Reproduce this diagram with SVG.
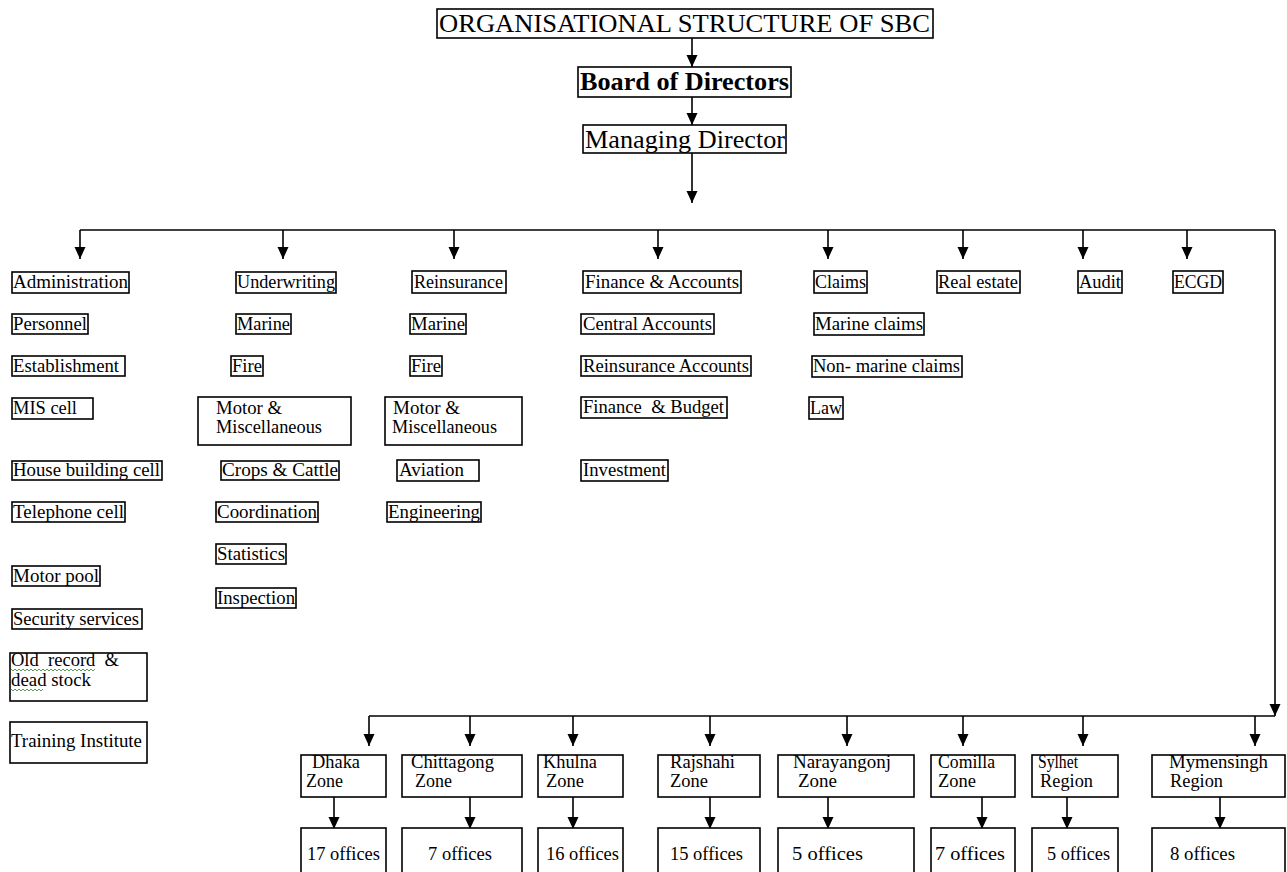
<svg xmlns="http://www.w3.org/2000/svg" width="1287" height="872" viewBox="0 0 1287 872" font-family="'Liberation Serif', 'DejaVu Serif', serif">
<style>
.b{fill:#fff;stroke:#000;stroke-width:1.6}
.t{font-family:'Liberation Serif','DejaVu Serif',serif;font-size:18px;fill:#000}
.h{font-family:'Liberation Serif','DejaVu Serif',serif;font-size:25px;fill:#000}
.c{stroke:#000;stroke-width:1.6;fill:none}
.a{stroke:#000;stroke-width:1.6;fill:none;marker-end:url(#ah)}
.sq{stroke:#5a9a5a;stroke-width:1;fill:none}
</style>
<defs>
<marker id="ah" markerUnits="userSpaceOnUse" markerWidth="12" markerHeight="12" viewBox="0 0 12 12" refX="12" refY="6" orient="auto">
<path d="M0,0.5 L12,6 L0,11.5 z" fill="#000"/>
</marker>
</defs>
<rect width="1287" height="872" fill="#fff"/>

<g id="connectors">
<line class="a" x1="692" y1="38" x2="692" y2="67"/>
<line class="a" x1="692" y1="97" x2="692" y2="125"/>
<line class="a" x1="692" y1="153" x2="692" y2="203"/>
<polyline class="c" points="80,230 1275,230"/>
<line class="a" x1="80" y1="230" x2="80" y2="259"/>
<line class="a" x1="283" y1="230" x2="283" y2="259"/>
<line class="a" x1="454" y1="230" x2="454" y2="259"/>
<line class="a" x1="658" y1="230" x2="658" y2="259"/>
<line class="a" x1="828" y1="230" x2="828" y2="259"/>
<line class="a" x1="963" y1="230" x2="963" y2="259"/>
<line class="a" x1="1083" y1="230" x2="1083" y2="259"/>
<line class="a" x1="1187" y1="230" x2="1187" y2="259"/>
<line class="a" x1="1275" y1="230" x2="1275" y2="716"/>
<polyline class="c" points="369,716 1275,716"/>
<line class="a" x1="369" y1="716" x2="369" y2="746"/>
<line class="a" x1="470" y1="716" x2="470" y2="746"/>
<line class="a" x1="573" y1="716" x2="573" y2="746"/>
<line class="a" x1="710" y1="716" x2="710" y2="746"/>
<line class="a" x1="847" y1="716" x2="847" y2="746"/>
<line class="a" x1="963" y1="716" x2="963" y2="746"/>
<line class="a" x1="1083" y1="716" x2="1083" y2="746"/>
<line class="a" x1="1255" y1="716" x2="1255" y2="746"/>
<line class="a" x1="334" y1="797" x2="334" y2="829"/>
<line class="a" x1="470" y1="797" x2="470" y2="829"/>
<line class="a" x1="573" y1="797" x2="573" y2="829"/>
<line class="a" x1="710" y1="797" x2="710" y2="829"/>
<line class="a" x1="828" y1="797" x2="828" y2="829"/>
<line class="a" x1="982" y1="797" x2="982" y2="829"/>
<line class="a" x1="1067" y1="797" x2="1067" y2="829"/>
<line class="a" x1="1220" y1="797" x2="1220" y2="829"/>
</g>

<g id="title"><rect class="b" x="437" y="9" width="496" height="29"/><text class="h" x="439" y="32" textLength="491" lengthAdjust="spacingAndGlyphs">ORGANISATIONAL STRUCTURE OF SBC</text></g>
<g id="board"><rect class="b" x="578" y="67" width="213" height="30"/><text class="h" x="580" y="90" font-weight="bold" textLength="209" lengthAdjust="spacingAndGlyphs">Board of Directors</text></g>
<g id="md"><rect class="b" x="583" y="125" width="203" height="28"/><text class="h" x="585" y="148" textLength="200" lengthAdjust="spacingAndGlyphs">Managing Director</text></g>

<g id="administration"><rect class="b" x="12" y="272" width="117" height="21"/><text class="t" x="13" y="288" textLength="115" lengthAdjust="spacingAndGlyphs">Administration</text></g>
<g id="personnel"><rect class="b" x="12" y="314" width="76" height="20"/><text class="t" x="13" y="330" textLength="74" lengthAdjust="spacingAndGlyphs">Personnel</text></g>
<g id="establishment"><rect class="b" x="12" y="356" width="113" height="20"/><text class="t" x="13" y="372" textLength="106" lengthAdjust="spacingAndGlyphs">Establishment</text></g>
<g id="mis-cell"><rect class="b" x="12" y="398" width="81" height="21"/><text class="t" x="13" y="414" textLength="64" lengthAdjust="spacingAndGlyphs">MIS cell</text></g>
<g id="house-building-cell"><rect class="b" x="12" y="461" width="150" height="19"/><text class="t" x="13" y="476" textLength="147" lengthAdjust="spacingAndGlyphs">House building cell</text></g>
<g id="telephone-cell"><rect class="b" x="12" y="502" width="113" height="20"/><text class="t" x="13" y="518" textLength="111" lengthAdjust="spacingAndGlyphs">Telephone cell</text></g>
<g id="motor-pool"><rect class="b" x="12" y="566" width="88" height="20"/><text class="t" x="13" y="582" textLength="86" lengthAdjust="spacingAndGlyphs">Motor pool</text></g>
<g id="security-services"><rect class="b" x="12" y="609" width="130" height="20"/><text class="t" x="13" y="625" textLength="126" lengthAdjust="spacingAndGlyphs">Security services</text></g>
<g id="old-record"><rect class="b" x="10" y="653" width="137" height="48"/><text class="t" x="11" y="666" textLength="108" lengthAdjust="spacingAndGlyphs" xml:space="preserve">Old  record  &amp;</text><text class="t" x="11" y="686" textLength="80" lengthAdjust="spacingAndGlyphs">dead stock</text>
<path class="sq" d="M11,669 l2,2 2,-2 2,2 2,-2 2,2 2,-2 2,2 2,-2 2,2 2,-2 2,2 2,-2 2,2 2,-2 2,2 2,-2 2,2 2,-2 2,2 2,-2 2,2 2,-2 2,2 2,-2 2,2 2,-2 2,2 2,-2 2,2 2,-2 2,2 2,-2 2,2 2,-2 2,2 2,-2 2,2 2,-2 2,2 2,-2 2,2 2,-2"/>
<path class="sq" d="M11,689 l2,2 2,-2 2,2 2,-2 2,2 2,-2 2,2 2,-2 2,2 2,-2 2,2 2,-2 2,2 2,-2 2,2 2,-2"/></g>
<g id="training-institute"><rect class="b" x="10" y="722" width="137" height="41"/><text class="t" x="11" y="747" textLength="131" lengthAdjust="spacingAndGlyphs">Training Institute</text></g>

<g id="underwriting"><rect class="b" x="236" y="272" width="100" height="21"/><text class="t" x="237" y="288" textLength="98" lengthAdjust="spacingAndGlyphs">Underwriting</text></g>
<g id="uw-marine"><rect class="b" x="236" y="314" width="55" height="20"/><text class="t" x="237" y="330" textLength="53" lengthAdjust="spacingAndGlyphs">Marine</text></g>
<g id="uw-fire"><rect class="b" x="231" y="356" width="32" height="20"/><text class="t" x="232" y="372" textLength="30" lengthAdjust="spacingAndGlyphs">Fire</text></g>
<g id="uw-motor"><rect class="b" x="198" y="397" width="153" height="48"/><text class="t" x="216" y="414" textLength="66" lengthAdjust="spacingAndGlyphs">Motor &amp;</text><text class="t" x="216" y="433" textLength="106" lengthAdjust="spacingAndGlyphs">Miscellaneous</text></g>
<g id="crops-cattle"><rect class="b" x="221" y="461" width="118" height="19"/><text class="t" x="222" y="476" textLength="116" lengthAdjust="spacingAndGlyphs">Crops &amp; Cattle</text></g>
<g id="coordination"><rect class="b" x="216" y="502" width="102" height="20"/><text class="t" x="217" y="518" textLength="100" lengthAdjust="spacingAndGlyphs">Coordination</text></g>
<g id="statistics"><rect class="b" x="216" y="544" width="70" height="20"/><text class="t" x="217" y="560" textLength="68" lengthAdjust="spacingAndGlyphs">Statistics</text></g>
<g id="inspection"><rect class="b" x="216" y="588" width="80" height="20"/><text class="t" x="217" y="604" textLength="78" lengthAdjust="spacingAndGlyphs">Inspection</text></g>

<g id="reinsurance"><rect class="b" x="412" y="271" width="94" height="22"/><text class="t" x="414" y="288" textLength="89" lengthAdjust="spacingAndGlyphs">Reinsurance</text></g>
<g id="re-marine"><rect class="b" x="410" y="314" width="56" height="20"/><text class="t" x="411" y="330" textLength="54" lengthAdjust="spacingAndGlyphs">Marine</text></g>
<g id="re-fire"><rect class="b" x="410" y="356" width="32" height="20"/><text class="t" x="411" y="372" textLength="30" lengthAdjust="spacingAndGlyphs">Fire</text></g>
<g id="re-motor"><rect class="b" x="385" y="397" width="137" height="48"/><text class="t" x="393" y="414" textLength="67" lengthAdjust="spacingAndGlyphs">Motor &amp;</text><text class="t" x="392" y="433" textLength="105" lengthAdjust="spacingAndGlyphs">Miscellaneous</text></g>
<g id="aviation"><rect class="b" x="397" y="460" width="82" height="21"/><text class="t" x="399" y="476" textLength="65" lengthAdjust="spacingAndGlyphs">Aviation</text></g>
<g id="engineering"><rect class="b" x="387" y="502" width="94" height="20"/><text class="t" x="388" y="518" textLength="92" lengthAdjust="spacingAndGlyphs">Engineering</text></g>

<g id="finance-accounts"><rect class="b" x="583" y="271" width="158" height="22"/><text class="t" x="585" y="288" textLength="154" lengthAdjust="spacingAndGlyphs">Finance &amp; Accounts</text></g>
<g id="central-accounts"><rect class="b" x="581" y="314" width="133" height="20"/><text class="t" x="583" y="330" textLength="129" lengthAdjust="spacingAndGlyphs">Central Accounts</text></g>
<g id="reinsurance-accounts"><rect class="b" x="581" y="356" width="170" height="20"/><text class="t" x="583" y="372" textLength="166" lengthAdjust="spacingAndGlyphs">Reinsurance Accounts</text></g>
<g id="finance-budget"><rect class="b" x="581" y="397" width="146" height="21"/><text class="t" x="583" y="413" textLength="141" lengthAdjust="spacingAndGlyphs" xml:space="preserve">Finance  &amp; Budget</text></g>
<g id="investment"><rect class="b" x="581" y="460" width="87" height="21"/><text class="t" x="583" y="476" textLength="83" lengthAdjust="spacingAndGlyphs">Investment</text></g>

<g id="claims"><rect class="b" x="814" y="271" width="53" height="22"/><text class="t" x="815" y="288" textLength="51" lengthAdjust="spacingAndGlyphs">Claims</text></g>
<g id="marine-claims"><rect class="b" x="814" y="313" width="110" height="22"/><text class="t" x="815" y="330" textLength="108" lengthAdjust="spacingAndGlyphs">Marine claims</text></g>
<g id="non-marine-claims"><rect class="b" x="812" y="356" width="150" height="21"/><text class="t" x="813" y="372" textLength="147" lengthAdjust="spacingAndGlyphs">Non- marine claims</text></g>
<g id="law"><rect class="b" x="809" y="397" width="34" height="22"/><text class="t" x="810" y="414" textLength="32" lengthAdjust="spacingAndGlyphs">Law</text></g>
<g id="real-estate"><rect class="b" x="937" y="271" width="83" height="22"/><text class="t" x="938" y="288" textLength="80" lengthAdjust="spacingAndGlyphs">Real estate</text></g>
<g id="audit"><rect class="b" x="1078" y="271" width="44" height="22"/><text class="t" x="1079" y="288" textLength="42" lengthAdjust="spacingAndGlyphs">Audit</text></g>
<g id="ecgd"><rect class="b" x="1173" y="271" width="50" height="22"/><text class="t" x="1174" y="288" textLength="48" lengthAdjust="spacingAndGlyphs">ECGD</text></g>

<g id="dhaka-zone"><rect class="b" x="301" y="755" width="85" height="42"/><text class="t" x="312" y="768" textLength="48" lengthAdjust="spacingAndGlyphs">Dhaka</text><text class="t" x="306" y="787" textLength="37" lengthAdjust="spacingAndGlyphs">Zone</text></g>
<g id="chittagong-zone"><rect class="b" x="402" y="755" width="120" height="42"/><text class="t" x="411" y="768" textLength="83" lengthAdjust="spacingAndGlyphs">Chittagong</text><text class="t" x="415" y="787" textLength="37" lengthAdjust="spacingAndGlyphs">Zone</text></g>
<g id="khulna-zone"><rect class="b" x="538" y="755" width="85" height="42"/><text class="t" x="543" y="768" textLength="54" lengthAdjust="spacingAndGlyphs">Khulna</text><text class="t" x="546" y="787" textLength="38" lengthAdjust="spacingAndGlyphs">Zone</text></g>
<g id="rajshahi-zone"><rect class="b" x="658" y="755" width="102" height="42"/><text class="t" x="670" y="768" textLength="65" lengthAdjust="spacingAndGlyphs">Rajshahi</text><text class="t" x="670" y="787" textLength="38" lengthAdjust="spacingAndGlyphs">Zone</text></g>
<g id="narayangonj-zone"><rect class="b" x="778" y="755" width="136" height="42"/><text class="t" x="793" y="768" textLength="98" lengthAdjust="spacingAndGlyphs">Narayangonj</text><text class="t" x="798" y="787" textLength="39" lengthAdjust="spacingAndGlyphs">Zone</text></g>
<g id="comilla-zone"><rect class="b" x="931" y="755" width="84" height="42"/><text class="t" x="938" y="768" textLength="57" lengthAdjust="spacingAndGlyphs">Comilla</text><text class="t" x="938" y="787" textLength="38" lengthAdjust="spacingAndGlyphs">Zone</text></g>
<g id="sylhet-region"><rect class="b" x="1032" y="755" width="86" height="42"/><text class="t" x="1038" y="768" textLength="40" lengthAdjust="spacingAndGlyphs">Sylhet</text><text class="t" x="1040" y="787" textLength="53" lengthAdjust="spacingAndGlyphs">Region</text></g>
<g id="mymensingh-region"><rect class="b" x="1152" y="755" width="133" height="42"/><text class="t" x="1169" y="768" textLength="99" lengthAdjust="spacingAndGlyphs">Mymensingh</text><text class="t" x="1170" y="787" textLength="53" lengthAdjust="spacingAndGlyphs">Region</text></g>

<g id="dhaka-offices"><rect class="b" x="301" y="828" width="85" height="46"/><text class="t" x="307" y="860" textLength="73" lengthAdjust="spacingAndGlyphs">17 offices</text></g>
<g id="chittagong-offices"><rect class="b" x="402" y="828" width="120" height="46"/><text class="t" x="428" y="860" textLength="64" lengthAdjust="spacingAndGlyphs">7 offices</text></g>
<g id="khulna-offices"><rect class="b" x="538" y="828" width="85" height="46"/><text class="t" x="546" y="860" textLength="73" lengthAdjust="spacingAndGlyphs">16 offices</text></g>
<g id="rajshahi-offices"><rect class="b" x="658" y="828" width="102" height="46"/><text class="t" x="670" y="860" textLength="73" lengthAdjust="spacingAndGlyphs">15 offices</text></g>
<g id="narayangonj-offices"><rect class="b" x="778" y="828" width="136" height="46"/><text class="t" x="792" y="860" textLength="71" lengthAdjust="spacingAndGlyphs">5 offices</text></g>
<g id="comilla-offices"><rect class="b" x="931" y="828" width="84" height="46"/><text class="t" x="935" y="860" textLength="70" lengthAdjust="spacingAndGlyphs">7 offices</text></g>
<g id="sylhet-offices"><rect class="b" x="1032" y="828" width="86" height="46"/><text class="t" x="1047" y="860" textLength="63" lengthAdjust="spacingAndGlyphs">5 offices</text></g>
<g id="mymensingh-offices"><rect class="b" x="1152" y="828" width="133" height="46"/><text class="t" x="1170" y="860" textLength="65" lengthAdjust="spacingAndGlyphs">8 offices</text></g>
</svg>
